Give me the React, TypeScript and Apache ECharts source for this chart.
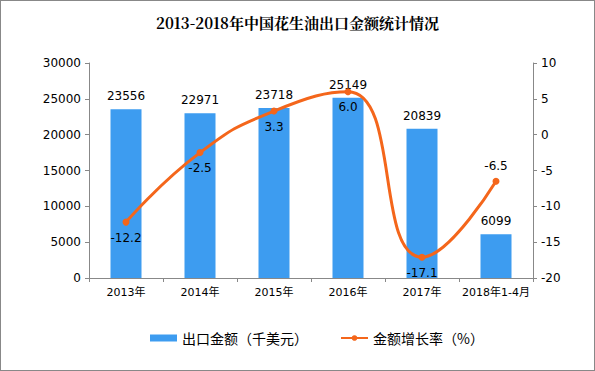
import React, { useEffect, useRef } from "react";
import * as echarts from "echarts";

const categories = ["2013年", "2014年", "2015年", "2016年", "2017年", "2018年1-4月"];
const exportValues = [23556, 22971, 23718, 25149, 20839, 6099];
const growthRates = [-12.2, -2.5, 3.3, 6.0, -17.1, -6.5];
const title = "2013-2018年中国花生油出口金额统计情况";
const barName = "出口金额（千美元）";
const lineName = "金额增长率（%）";

const FONT = "'DejaVu Sans', 'Noto Sans CJK SC', sans-serif";
const CJK = "'Noto Sans CJK SC', sans-serif";

export default function App() {
  const ref = useRef<HTMLDivElement>(null);
  useEffect(() => {
    if (!ref.current) return;
    const chart = echarts.init(ref.current, undefined, { renderer: "svg" });
    const axisLine = { show: true, lineStyle: { color: "#888", width: 1 } };
    chart.setOption({
      animation: false,
      backgroundColor: "#fff",
      title: {
        text: title,
        left: "center",
        top: 9,
        textStyle: { fontFamily: "'Noto Serif CJK SC', 'DejaVu Serif', " + CJK, fontSize: 15, fontWeight: "bold", color: "#000" },
      },
      legend: {
        bottom: 20,
        left: 144,
        itemGap: 32,
        itemWidth: 27,
        itemHeight: 7,
        textStyle: { fontFamily: CJK, fontSize: 14, color: "#000" },
        data: [
          { name: barName, icon: "rect" },
          { name: lineName },
        ],
      },
      grid: { left: 88, right: 61, top: 62, bottom: 92, containLabel: false },
      xAxis: {
        type: "category",
        data: categories,
        boundaryGap: true,
        axisLine,
        axisTick: { show: true, alignWithLabel: false, length: 4, lineStyle: { color: "#888" } },
        axisLabel: { fontFamily: FONT, fontSize: 11, color: "#000", margin: 9, interval: 0 },
      },
      yAxis: [
        {
          type: "value",
          min: 0,
          max: 30000,
          interval: 5000,
          axisLine,
          axisTick: { show: true, length: 4, lineStyle: { color: "#888" } },
          splitLine: { show: false },
          axisLabel: { fontFamily: FONT, fontSize: 12, color: "#000", margin: 8, formatter: (v: number) => String(v) },
        },
        {
          type: "value",
          min: -20,
          max: 10,
          interval: 5,
          position: "right",
          axisLine,
          axisTick: { show: true, length: 4, lineStyle: { color: "#888" } },
          splitLine: { show: false },
          axisLabel: { fontFamily: FONT, fontSize: 12, color: "#000", margin: 8 },
        },
      ],
      series: [
        {
          name: barName,
          type: "bar",
          data: exportValues,
          barWidth: 31,
          itemStyle: { color: "#3d9cf0" },
          label: { show: true, position: "top", fontFamily: FONT, fontSize: 12, color: "#000", distance: 7 },
        },
        {
          name: lineName,
          type: "line",
          yAxisIndex: 1,
          data: growthRates.map((v, i) => ({
            value: v,
            label: { position: i === growthRates.length - 1 ? "top" : "bottom" },
          })),
          smooth: 0.5,
          symbol: "circle",
          symbolSize: 7,
          lineStyle: { color: "#f4661b", width: 3 },
          itemStyle: { color: "#f4661b" },
          label: {
            show: true,
            fontFamily: FONT,
            fontSize: 12,
            color: "#000",
            distance: 6,
            formatter: (p: any) => Number(p.value).toFixed(1),
          },
        },
      ],
    });
    return () => chart.dispose();
  }, []);
  return (
    <div
      style={{
        position: "fixed",
        left: 0,
        top: 0,
        width: 595,
        height: 371,
        boxSizing: "border-box",
        border: "1px solid #888",
        background: "#fff",
      }}
    >
      <div ref={ref} style={{ width: 593, height: 369 }} />
    </div>
  );
}
